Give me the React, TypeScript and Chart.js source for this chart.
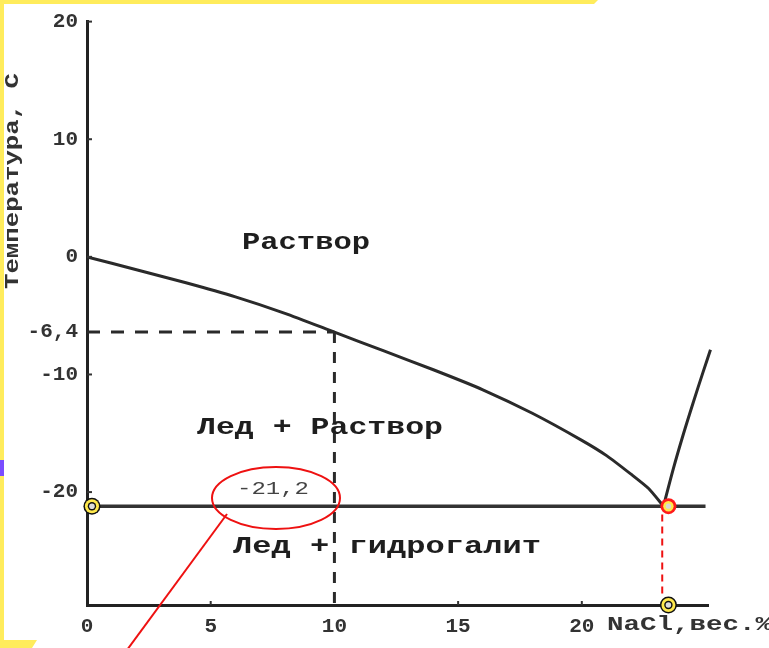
import React, { useEffect, useRef } from 'react';
import { Chart, registerables } from 'chart.js';

Chart.register(...registerables);

// ---- data (NaCl wt.% , temperature °C) ----
const liquidusX = [0, 2, 4, 6, 8, 10, 12, 14, 16, 18, 20, 21, 22, 22.7, 23.3];
const liquidusT = [0, -1.1, -2.2, -3.4, -4.8, -6.4, -8.0, -9.6, -11.3, -13.3, -15.6, -16.9, -18.5, -19.7, -21.2];
const hydroX = [23.3, 23.7, 24.1, 24.5, 24.9, 25.2];
const hydroT = [-21.2, -18.0, -15.1, -12.4, -9.8, -7.9];
const eutecticX = [0, 25.0];
const eutecticT = [-21.2, -21.2];
const guideHX = [0, 10];
const guideHT = [-6.4, -6.4];
const guideVX = [10, 10];
const guideVT = [-6.4, -29.6];
const redGuideX = [23.25, 23.25];
const redGuideT = [-21.9, -29.0];
const markerX = [0.2, 23.5, 23.5];
const markerT = [-21.2, -21.2, -29.6];
const markerKinds = ['yellow', 'red', 'yellow'];
const yTicks = [20, 10, 0, -6.4, -10, -20];
const yTickLabels = ['20', '10', '0', '-6,4', '-10', '-20'];
const xTicks = [0, 5, 10, 15, 20];
const xTickLabels = ['0', '5', '10', '15', '20'];
const innerYTicks = [20, 10, 0, -10, -20];
const innerXTicks = [5, 15, 20];
const regionLabels = ['Раствор', 'Лед + Раствор', 'Лед + гидрогалит'];
const eutecticLabel = '-21,2';
const yTitle = 'Температура, С';
const xTitle = 'NaCl,вес.%';

const FONT = '"Liberation Mono", "Courier New", monospace';

function pts(xs: number[], ys: number[]) {
  return xs.map((x, i) => ({ x, y: ys[i] }));
}

function stretchText(
  ctx: CanvasRenderingContext2D,
  text: string,
  cx: number,
  cy: number,
  w: number,
  size: number,
  weight: string,
  color: string,
  rotate = 0,
  align: CanvasTextAlign = 'center'
) {
  ctx.save();
  ctx.font = `${weight} ${size}px ${FONT}`;
  const m = ctx.measureText(text).width;
  ctx.translate(cx, cy);
  if (rotate) ctx.rotate(rotate);
  ctx.scale(w / m, 1);
  ctx.textAlign = align;
  ctx.textBaseline = 'middle';
  ctx.fillStyle = color;
  ctx.filter = 'blur(0.6px)';
  ctx.fillText(text, 0, 0);
  ctx.restore();
}

const overlay = {
  id: 'overlay',
  afterDatasetsDraw(chart: any) {
    const ctx: CanvasRenderingContext2D = chart.ctx;
    const xs = chart.scales.x;
    const ys = chart.scales.y;
    const ca = chart.chartArea;

    // inner tick stubs
    ctx.save();
    ctx.strokeStyle = '#333';
    ctx.lineWidth = 2;
    innerYTicks.forEach((v) => {
      const py = ys.getPixelForValue(v);
      ctx.beginPath();
      ctx.moveTo(ca.left, py);
      ctx.lineTo(ca.left + 5, py);
      ctx.stroke();
    });
    innerXTicks.forEach((v) => {
      const px = xs.getPixelForValue(v);
      ctx.beginPath();
      ctx.moveTo(px, ca.bottom);
      ctx.lineTo(px, ca.bottom - 4);
      ctx.stroke();
    });
    ctx.restore();

    // region labels
    stretchText(ctx, regionLabels[0], 306, 243, 128, 23, 'bold', '#1e1e1e');
    stretchText(ctx, regionLabels[1], 320, 428, 246, 23, 'bold', '#1e1e1e');
    stretchText(ctx, regionLabels[2], 387, 547, 308, 23, 'bold', '#1e1e1e');
    stretchText(ctx, eutecticLabel, 273, 489, 72, 18, 'normal', '#444');

    // axis titles
    stretchText(ctx, yTitle, 13, 181, 216, 20, 'bold', '#333', -Math.PI / 2);
    stretchText(ctx, xTitle, 607, 625, 165, 20, 'bold', '#333', 0, 'left');

    // red ellipse and pointer line
    ctx.save();
    ctx.strokeStyle = '#ee1111';
    ctx.lineWidth = 2;
    ctx.beginPath();
    ctx.ellipse(276, 498, 64, 31, 0, 0, Math.PI * 2);
    ctx.stroke();
    ctx.beginPath();
    ctx.moveTo(227, 514);
    ctx.lineTo(127, 650);
    ctx.stroke();
    ctx.restore();

    // markers
    markerX.forEach((mx, i) => {
      const px = xs.getPixelForValue(mx);
      const py = ys.getPixelForValue(markerT[i]);
      const rings =
        markerKinds[i] === 'red'
          ? [
              [8, '#ff1a1a'],
              [5.2, '#ffe94d'],
              [2.6, '#d8d8d8'],
            ]
          : [
              [8.5, '#111'],
              [7, '#ffe94d'],
              [4.2, '#111'],
              [2.8, '#dcdcdc'],
            ];
      rings.forEach(([r, c]) => {
        ctx.beginPath();
        ctx.arc(px, py, r as number, 0, Math.PI * 2);
        ctx.fillStyle = c as string;
        ctx.fill();
      });
    });

    // frame decorations (yellow border, purple tab)
    ctx.save();
    ctx.fillStyle = '#ffec5c';
    ctx.beginPath();
    ctx.moveTo(0, 0);
    ctx.lineTo(598, 0);
    ctx.lineTo(594, 4);
    ctx.lineTo(0, 4);
    ctx.closePath();
    ctx.fill();
    ctx.fillRect(0, 0, 4, 648);
    ctx.beginPath();
    ctx.moveTo(0, 640);
    ctx.lineTo(37, 640);
    ctx.lineTo(32, 648);
    ctx.lineTo(0, 648);
    ctx.closePath();
    ctx.fill();
    ctx.fillStyle = '#7a4dff';
    ctx.fillRect(0, 460, 4, 16);
    ctx.restore();
  },
};

export default function App() {
  const ref = useRef<HTMLCanvasElement | null>(null);
  useEffect(() => {
    if (!ref.current) return;
    const line = (data: any, extra: any = {}) => ({
      data,
      borderColor: '#2a2a2a',
      borderWidth: 3,
      pointRadius: 0,
      fill: false,
      ...extra,
    });
    const chart = new Chart(ref.current, {
      type: 'line',
      data: {
        datasets: [
          line(pts(liquidusX, liquidusT), { tension: 0.2 }),
          line(pts(hydroX, hydroT), { tension: 0.3, clip: false }),
          line(pts(eutecticX, eutecticT), { borderWidth: 3.5, borderColor: '#333' }),
          line(pts(guideHX, guideHT), { borderDash: [13, 11] }),
          line(pts(guideVX, guideVT), { borderDash: [11, 9] }),
          line(pts(redGuideX, redGuideT), { borderColor: '#ee1111', borderWidth: 2, borderDash: [7, 5] }),
        ],
      },
      options: {
        animation: false,
        responsive: false,
        events: [],
        layout: { padding: { top: 15, right: 61, left: 0, bottom: 0 } },
        plugins: { legend: { display: false }, tooltip: { enabled: false } },
        scales: {
          x: {
            type: 'linear',
            min: 0,
            max: 25.1,
            grid: { display: false, drawTicks: false },
            border: { display: true, color: '#222', width: 3 },
            afterFit: (s: any) => {
              s.height = 43;
            },
            afterBuildTicks: (s: any) => {
              s.ticks = xTicks.map((v) => ({ value: v }));
            },
            ticks: {
              padding: 9,
              color: '#333',
              font: { family: FONT, size: 21, weight: 'bold' },
              callback: (v: any) => xTickLabels[xTicks.indexOf(Number(v))] ?? '',
              maxRotation: 0,
              autoSkip: false,
            },
          },
          y: {
            type: 'linear',
            min: -29.6,
            max: 20,
            grid: { display: false, drawTicks: false },
            border: { display: true, color: '#222', width: 3 },
            afterFit: (s: any) => {
              s.width = 87;
            },
            afterBuildTicks: (s: any) => {
              s.ticks = yTicks.map((v) => ({ value: v }));
            },
            ticks: {
              padding: 9,
              color: '#333',
              font: { family: FONT, size: 21, weight: 'bold' },
              callback: (v: any) => yTickLabels[yTicks.indexOf(Number(v))] ?? '',
              autoSkip: false,
            },
          },
        },
      },
      plugins: [overlay],
    } as any);
    return () => chart.destroy();
  }, []);
  return (
    <div style={{ position: 'fixed', left: 0, top: 0, width: 769, height: 648, background: '#fff' }}>
      <canvas ref={ref} width={769} height={648} style={{ display: 'block' }} />
    </div>
  );
}
